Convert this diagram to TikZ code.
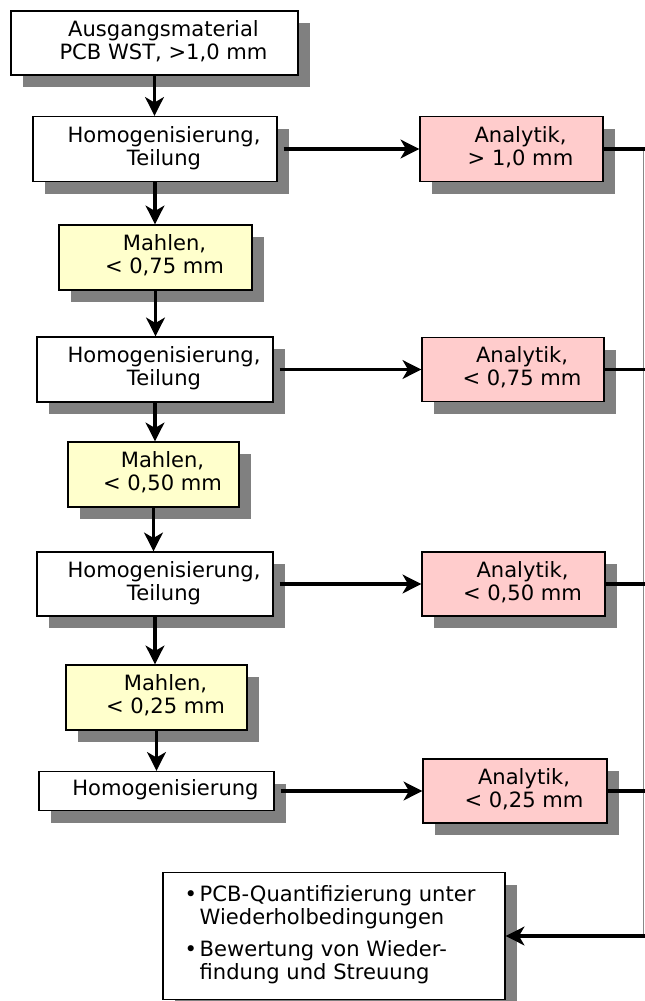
\documentclass[tikz,border=0pt]{standalone}
\usepackage{fontspec}
\setmainfont{DejaVu Sans}
\usetikzlibrary{arrows.meta,shadows}
\definecolor{shadowgray}{HTML}{808080}
\definecolor{millfill}{HTML}{FFFFCC}
\definecolor{anafill}{HTML}{FFCCCC}
\definecolor{busgray}{HTML}{888888}
\newcommand\bxtext[1]{\hspace*{13.5pt}\begin{tabular}{@{}c@{}}#1\end{tabular}}
\begin{document}
\begin{tikzpicture}[x=0.75pt,y=-0.75pt,
  sz/.style 2 args={minimum width={#1*0.75pt}, minimum height={#2*0.75pt}},
  box/.style={draw=black, line width=1pt, fill=white, inner sep=0pt,
    font=\fontsize{15.8}{17.25}\selectfont,
    drop shadow={shadow xshift=9pt, shadow yshift=-9pt, fill=shadowgray, opacity=1}},
  mill/.style={box, fill=millfill},
  ana/.style={box, fill=anafill},
  arr/.style={line width=2.9pt, -{Stealth[length=14pt, width=14pt, inset=4pt]}},
  bar/.style={line width=2.9pt},
  busline/.style={line width=0.9pt, draw=busgray}]
\useasboundingbox (0,0) rectangle (645,1001);

\node[box, sz={287}{64}] (A0) at (154.5,43) {\bxtext{Ausgangsmaterial\\PCB WST, >1,0 mm}};
\node[box, sz={244}{65}] (H1) at (155,149) {\bxtext{Homogenisierung,\\Teilung}};
\node[ana, sz={183}{65}] (N1) at (511.5,149) {\bxtext{Analytik,\\> 1,0 mm}};
\node[mill, sz={193}{65}] (M1) at (155.5,257.5) {\bxtext{Mahlen,\\< 0,75 mm}};
\node[box, sz={236}{65}] (H2) at (155,369.5) {\bxtext{Homogenisierung,\\Teilung}};
\node[ana, sz={182}{64}] (N2) at (513,369.5) {\bxtext{Analytik,\\< 0,75 mm}};
\node[mill, sz={171}{65}] (M2) at (153.5,474.5) {\bxtext{Mahlen,\\< 0,50 mm}};
\node[box, sz={236}{64}] (H3) at (155,584) {\bxtext{Homogenisierung,\\Teilung}};
\node[ana, sz={183}{64}] (N3) at (513.5,584) {\bxtext{Analytik,\\< 0,50 mm}};
\node[mill, sz={181}{65}] (M3) at (156.5,697.5) {\bxtext{Mahlen,\\< 0,25 mm}};
\node[box, sz={235}{39}] (H4) at (156.5,791) {\bxtext{Homogenisierung}};
\node[ana, sz={184}{64}] (N4) at (515,791) {\bxtext{Analytik,\\< 0,25 mm}};
\node[box, sz={342}{127}] (F) at (334,936) {\hspace*{-6pt}\begin{tabular}{@{}c@{\hspace{2pt}}l@{}}
  • & PCB-Quantifizierung unter\\
    & Wiederholbedingungen\\[7pt]
  • & Bewertung von Wieder-\\
    & findung und Streuung
  \end{tabular}};

\coordinate (busR) at (645,0);
\coordinate (bus) at (643.5,0);

% vertical flow
\draw[arr] (A0.south) -- (A0.south |- H1.north);
\draw[arr] (H1.south) -- (H1.south |- M1.north);
\draw[arr] (M1.south) -- (M1.south |- H2.north);
\draw[arr] (H2.south) -- (H2.south |- M2.north);
\draw[arr] (M2.south) -- (M2.south |- H3.north);
\draw[arr] (H3.south) -- (H3.south |- M3.north);
\draw[arr] (M3.south) -- (M3.south |- H4.north);

% to analytics
\draw[arr] ([xshift=4.5pt]H1.east) -- (N1.west);
\draw[arr] ([xshift=4.5pt]H2.east) -- (N2.west);
\draw[arr] ([xshift=4.5pt]H3.east) -- (N3.west);
\draw[arr] ([xshift=4.5pt]H4.east) -- (N4.west);

% to bus
\draw[busline] (N1.east -| bus) -- (F.east -| bus);
\draw[bar] (N1.east) -- (N1.east -| busR);
\draw[bar] (N2.east) -- (N2.east -| busR);
\draw[bar] (N3.east) -- (N3.east -| busR);
\draw[bar] (N4.east) -- (N4.east -| busR);
\draw[arr] (F.east -| busR) -- (F.east);
\end{tikzpicture}
\end{document}
